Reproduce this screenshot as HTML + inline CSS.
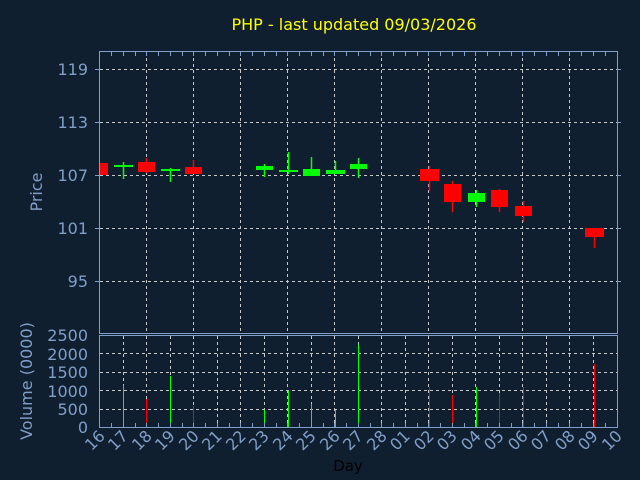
<!DOCTYPE html>
<html><head><meta charset="utf-8"><style>
html,body{margin:0;padding:0;background:#101f30;}
svg{display:block;font-family:"DejaVu Sans","Liberation Sans",sans-serif;}
</style></head><body>
<svg width="640" height="480" viewBox="0 0 640 480" xmlns="http://www.w3.org/2000/svg">
<rect width="640" height="480" fill="#101f30"/>
<text x="354" y="30" fill="#ffff00" font-size="16" text-anchor="middle">PHP - last updated 09/03/2026</text>
<g stroke="#c8c8c8" stroke-width="1" stroke-dasharray="3,3" fill="none">
<line x1="100" y1="69.5" x2="617" y2="69.5"/>
<line x1="100" y1="122.5" x2="617" y2="122.5"/>
<line x1="100" y1="175.5" x2="617" y2="175.5"/>
<line x1="100" y1="228.5" x2="617" y2="228.5"/>
<line x1="100" y1="281.5" x2="617" y2="281.5"/>
<line x1="146.5" y1="52" x2="146.5" y2="333"/>
<line x1="193.5" y1="52" x2="193.5" y2="333"/>
<line x1="240.5" y1="52" x2="240.5" y2="333"/>
<line x1="287.5" y1="52" x2="287.5" y2="333"/>
<line x1="334.5" y1="52" x2="334.5" y2="333"/>
<line x1="381.5" y1="52" x2="381.5" y2="333"/>
<line x1="428.5" y1="52" x2="428.5" y2="333"/>
<line x1="475.5" y1="52" x2="475.5" y2="333"/>
<line x1="522.5" y1="52" x2="522.5" y2="333"/>
<line x1="569.5" y1="52" x2="569.5" y2="333"/>
<line x1="100" y1="353.5" x2="617" y2="353.5"/>
<line x1="100" y1="372.5" x2="617" y2="372.5"/>
<line x1="100" y1="390.5" x2="617" y2="390.5"/>
<line x1="100" y1="409.5" x2="617" y2="409.5"/>
<line x1="123.5" y1="336" x2="123.5" y2="427"/><line x1="146.5" y1="336" x2="146.5" y2="427"/>
<line x1="170.5" y1="336" x2="170.5" y2="427"/><line x1="193.5" y1="336" x2="193.5" y2="427"/>
<line x1="217.5" y1="336" x2="217.5" y2="427"/><line x1="240.5" y1="336" x2="240.5" y2="427"/>
<line x1="264.5" y1="336" x2="264.5" y2="427"/><line x1="287.5" y1="336" x2="287.5" y2="427"/>
<line x1="311.5" y1="336" x2="311.5" y2="427"/><line x1="334.5" y1="336" x2="334.5" y2="427"/>
<line x1="358.5" y1="336" x2="358.5" y2="427"/><line x1="381.5" y1="336" x2="381.5" y2="427"/>
<line x1="405.5" y1="336" x2="405.5" y2="427"/><line x1="428.5" y1="336" x2="428.5" y2="427"/>
<line x1="452.5" y1="336" x2="452.5" y2="427"/><line x1="475.5" y1="336" x2="475.5" y2="427"/>
<line x1="499.5" y1="336" x2="499.5" y2="427"/><line x1="522.5" y1="336" x2="522.5" y2="427"/>
<line x1="546.5" y1="336" x2="546.5" y2="427"/><line x1="569.5" y1="336" x2="569.5" y2="427"/>
<line x1="593.5" y1="336" x2="593.5" y2="427"/>
</g>
<g stroke-width="1.5">
<rect x="100" y="163" width="8" height="12" fill="#ff0000"/>
<line x1="123.5" y1="162" x2="123.5" y2="179" stroke="#00ff00"/><rect x="114" y="165" width="19" height="2" fill="#00ff00"/>
<line x1="146.5" y1="158" x2="146.5" y2="173" stroke="#ff0000"/><rect x="138" y="162" width="17" height="10" fill="#ff0000"/>
<line x1="170.5" y1="168" x2="170.5" y2="182" stroke="#00ff00"/><rect x="161" y="169" width="19" height="2" fill="#00ff00"/>
<line x1="193.5" y1="160" x2="193.5" y2="174" stroke="#ff0000"/><rect x="185" y="167" width="17" height="7" fill="#ff0000"/>
<line x1="264.5" y1="164" x2="264.5" y2="177" stroke="#00ff00"/><rect x="256" y="166" width="17" height="4" fill="#00ff00"/>
<line x1="288.5" y1="152" x2="288.5" y2="174" stroke="#00ff00"/><rect x="279" y="170" width="19" height="2" fill="#00ff00"/>
<line x1="311.5" y1="157" x2="311.5" y2="176" stroke="#00ff00"/><rect x="303" y="169" width="17" height="7" fill="#00ff00"/>
<line x1="335.5" y1="161" x2="335.5" y2="174" stroke="#00ff00"/><rect x="326" y="170" width="19" height="4" fill="#00ff00"/>
<line x1="358.5" y1="158" x2="358.5" y2="178" stroke="#00ff00"/><rect x="350" y="164" width="17" height="5" fill="#00ff00"/>
<line x1="429.5" y1="166" x2="429.5" y2="191" stroke="#ff0000"/><rect x="420" y="169" width="19" height="12" fill="#ff0000"/>
<line x1="452.5" y1="181" x2="452.5" y2="212" stroke="#ff0000"/><rect x="444" y="184" width="17" height="18" fill="#ff0000"/>
<line x1="476.5" y1="190" x2="476.5" y2="207" stroke="#00ff00"/><rect x="468" y="193" width="17" height="9" fill="#00ff00"/>
<line x1="499.5" y1="189" x2="499.5" y2="212" stroke="#ff0000"/><rect x="491" y="190" width="17" height="17" fill="#ff0000"/>
<line x1="523.5" y1="201" x2="523.5" y2="222" stroke="#ff0000"/><rect x="515" y="206" width="17" height="10" fill="#ff0000"/>
<line x1="594.5" y1="228" x2="594.5" y2="248" stroke="#ff0000"/><rect x="585" y="228" width="19" height="9" fill="#ff0000"/>
</g>
<g stroke-width="1">
<line x1="123.5" y1="427" x2="123.5" y2="385" stroke="#00ff00"/>
<line x1="146.5" y1="427" x2="146.5" y2="399" stroke="#ff0000"/>
<line x1="170.5" y1="427" x2="170.5" y2="376" stroke="#00ff00"/>
<line x1="193.5" y1="427" x2="193.5" y2="406" stroke="#ff0000"/>
<line x1="264.5" y1="427" x2="264.5" y2="410" stroke="#00ff00"/>
<line x1="288.5" y1="427" x2="288.5" y2="391" stroke="#00ff00"/>
<line x1="311.5" y1="427" x2="311.5" y2="404" stroke="#00ff00"/>
<line x1="335.5" y1="427" x2="335.5" y2="410" stroke="#00ff00"/>
<line x1="358.5" y1="427" x2="358.5" y2="345" stroke="#00ff00"/>
<line x1="429.5" y1="427" x2="429.5" y2="387" stroke="#ff0000"/>
<line x1="452.5" y1="427" x2="452.5" y2="395" stroke="#ff0000"/>
<line x1="476.5" y1="427" x2="476.5" y2="387" stroke="#00ff00"/>
<line x1="499.5" y1="427" x2="499.5" y2="393" stroke="#ff0000"/>
<line x1="523.5" y1="427" x2="523.5" y2="387" stroke="#ff0000"/>
<line x1="594.5" y1="427" x2="594.5" y2="364" stroke="#ff0000"/>
</g>
<g stroke="#7f9fc8" fill="none" stroke-width="1">
<rect x="99.5" y="51.5" width="518" height="282"/>
<rect x="99.5" y="335.5" width="518" height="92"/>
</g>
<g stroke="#7f9fc8" stroke-width="1">
<path d="M111.5 52v4M123.5 52v4M135.5 52v4M146.5 52v4M158.5 52v4M170.5 52v4M182.5 52v4M193.5 52v4M205.5 52v4M217.5 52v4M229.5 52v4M240.5 52v4M252.5 52v4M264.5 52v4M276.5 52v4M287.5 52v4M299.5 52v4M311.5 52v4M323.5 52v4M334.5 52v4M346.5 52v4M358.5 52v4M370.5 52v4M381.5 52v4M393.5 52v4M405.5 52v4M417.5 52v4M428.5 52v4M440.5 52v4M452.5 52v4M464.5 52v4M475.5 52v4M487.5 52v4M499.5 52v4M511.5 52v4M522.5 52v4M534.5 52v4M546.5 52v4M558.5 52v4M569.5 52v4M581.5 52v4M593.5 52v4M605.5 52v4"/>
<path d="M111.5 427v-4M123.5 427v-4M135.5 427v-4M146.5 427v-4M158.5 427v-4M170.5 427v-4M182.5 427v-4M193.5 427v-4M205.5 427v-4M217.5 427v-4M229.5 427v-4M240.5 427v-4M252.5 427v-4M264.5 427v-4M276.5 427v-4M287.5 427v-4M299.5 427v-4M311.5 427v-4M323.5 427v-4M334.5 427v-4M346.5 427v-4M358.5 427v-4M370.5 427v-4M381.5 427v-4M393.5 427v-4M405.5 427v-4M417.5 427v-4M428.5 427v-4M440.5 427v-4M452.5 427v-4M464.5 427v-4M475.5 427v-4M487.5 427v-4M499.5 427v-4M511.5 427v-4M522.5 427v-4M534.5 427v-4M546.5 427v-4M558.5 427v-4M569.5 427v-4M581.5 427v-4M593.5 427v-4M605.5 427v-4"/>
<path d="M100 69.5h-5M100 122.5h-5M100 175.5h-5M100 228.5h-5M100 281.5h-5M617 69.5h4M617 122.5h4M617 175.5h4M617 228.5h4M617 281.5h4"/>
</g>
<g fill="#7f9fc8" font-size="16" text-anchor="end">
<text x="88" y="75">119</text><text x="88" y="128">113</text><text x="88" y="181">107</text>
<text x="88" y="234">101</text><text x="88" y="287">95</text>
<text x="88" y="341">2500</text><text x="88" y="360">2000</text><text x="88" y="378">1500</text>
<text x="88" y="397">1000</text><text x="88" y="415">500</text><text x="88" y="433">0</text>
</g>
<text transform="translate(42,192) rotate(-90)" fill="#7f9fc8" font-size="16" text-anchor="middle">Price</text>
<text transform="translate(32,381) rotate(-90)" fill="#7f9fc8" font-size="16" text-anchor="middle">Volume (0000)</text>
<g fill="#7f9fc8" font-size="16" text-anchor="end">
<text transform="translate(106,437) rotate(-45)">16</text>
<text transform="translate(129,437) rotate(-45)">17</text>
<text transform="translate(153,437) rotate(-45)">18</text>
<text transform="translate(176,437) rotate(-45)">19</text>
<text transform="translate(200,437) rotate(-45)">20</text>
<text transform="translate(223,437) rotate(-45)">21</text>
<text transform="translate(247,437) rotate(-45)">22</text>
<text transform="translate(270,437) rotate(-45)">23</text>
<text transform="translate(294,437) rotate(-45)">24</text>
<text transform="translate(317,437) rotate(-45)">25</text>
<text transform="translate(341,437) rotate(-45)">26</text>
<text transform="translate(364,437) rotate(-45)">27</text>
<text transform="translate(388,437) rotate(-45)">28</text>
<text transform="translate(411,437) rotate(-45)">01</text>
<text transform="translate(435,437) rotate(-45)">02</text>
<text transform="translate(458,437) rotate(-45)">03</text>
<text transform="translate(482,437) rotate(-45)">04</text>
<text transform="translate(505,437) rotate(-45)">05</text>
<text transform="translate(529,437) rotate(-45)">06</text>
<text transform="translate(552,437) rotate(-45)">07</text>
<text transform="translate(576,437) rotate(-45)">08</text>
<text transform="translate(599,437) rotate(-45)">09</text>
<text transform="translate(623,437) rotate(-45)">10</text>
</g>
<text x="348" y="471" fill="#000000" font-size="15" text-anchor="middle">Day</text>
</svg>
</body></html>
